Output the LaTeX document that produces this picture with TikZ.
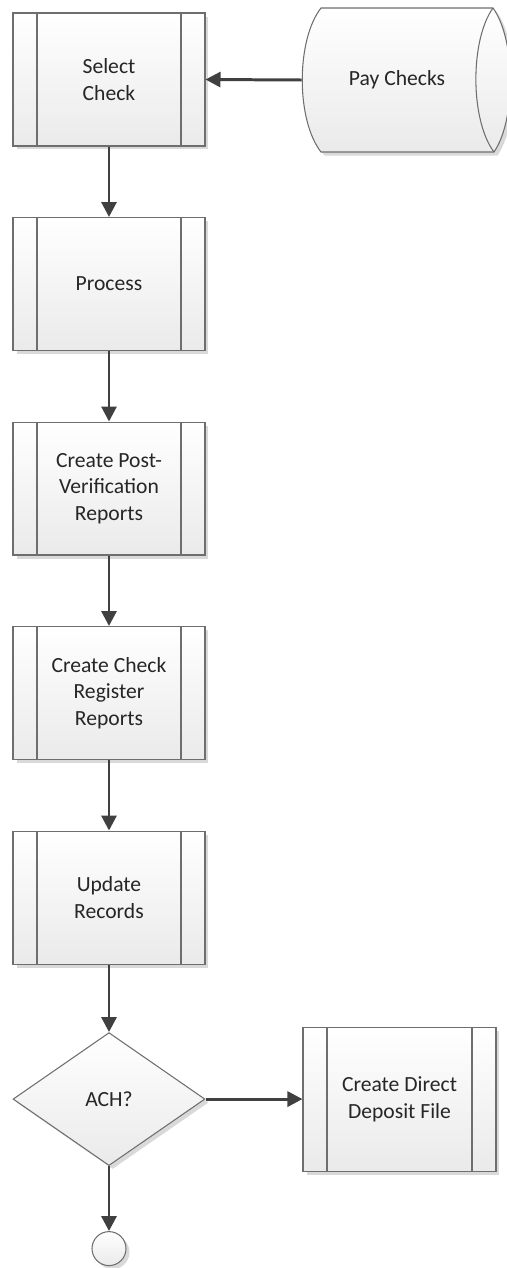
\documentclass[tikz,border=0pt]{standalone}
\usepackage{fontspec}
\setmainfont{Carlito}
\usetikzlibrary{positioning,shapes.geometric,arrows.meta,shadows}
\definecolor{FlowLine}{HTML}{6E6E6E}
\definecolor{FlowArrow}{HTML}{404040}
\definecolor{FlowFill}{HTML}{EAEAEA}
\definecolor{FlowText}{HTML}{262626}

\begin{document}
\begin{tikzpicture}[x=0.02cm, y=-0.02cm, font=\fontsize{12.3}{15.2}\selectfont, text=FlowText,
  boxfill/.style={draw=FlowLine, line width=0.6pt, top color=white, bottom color=FlowFill,
    drop shadow={shadow xshift=0.07cm, shadow yshift=-0.07cm, fill=black, opacity=0.15}},
  subproc/.style={boxfill, rectangle, minimum width=3.84cm, minimum height=2.66cm, align=center, inner sep=2pt,
    path picture={\draw[FlowLine, line width=0.6pt]
      ([xshift=0.48cm]path picture bounding box.north west) -- ([xshift=0.48cm]path picture bounding box.south west)
      ([xshift=-0.48cm]path picture bounding box.north east) -- ([xshift=-0.48cm]path picture bounding box.south east);}},
  decision/.style={boxfill, diamond, minimum width=3.84cm, minimum height=2.66cm, inner sep=0pt},
  terminal/.style={boxfill, circle, minimum size=0.68cm, inner sep=0pt},
  flow/.style={-{Triangle[length=0.3cm,width=0.3cm]}, draw=FlowArrow, line width=1.7pt}]
  \useasboundingbox (0,0) rectangle (507,1268);

  % stored data
  \path[boxfill] (321,8) -- (493,8) .. controls (516,40) and (516,120) .. (494,152)
    -- (321,152) .. controls (296,120) and (296,40) .. (321,8) -- cycle;
  \draw[FlowLine, line width=0.6pt] (493,8) .. controls (470,40) and (470,120) .. (494,152);
  \node[minimum width=3.8cm, minimum height=2.88cm, inner sep=0pt] (pay) at (397,80) {Pay Checks};

  % main column
  \node[subproc] (sel) at (109,79.5) {Select\\Check};
  \node[subproc, below=1.41cm of sel] (proc) {Process};
  \node[subproc, below=1.41cm of proc] (postver) {Create Post-\\Verification\\Reports};
  \node[subproc, below=1.41cm of postver] (chkreg) {Create Check\\Register\\Reports};
  \node[subproc, below=1.41cm of chkreg] (upd) {Update\\Records};
  \node[decision, below=1.35cm of upd] (ach) {ACH?};
  \node[subproc, minimum width=3.86cm, minimum height=2.88cm, right=1.94cm of ach] (dirdep) {Create Direct\\Deposit File};
  \node[terminal, below=1.3cm of ach] (stop) {};

  \draw[flow] (pay.west) -- (sel.east);
  \draw[flow] (sel.south) -- (proc.north);
  \draw[flow] (proc.south) -- (postver.north);
  \draw[flow] (postver.south) -- (chkreg.north);
  \draw[flow] (chkreg.south) -- (upd.north);
  \draw[flow] (upd.south) -- (ach.north);
  \draw[flow] (ach.east) -- (dirdep.west);
  \draw[flow] (ach.south) -- (stop.north);
\end{tikzpicture}
\end{document}
